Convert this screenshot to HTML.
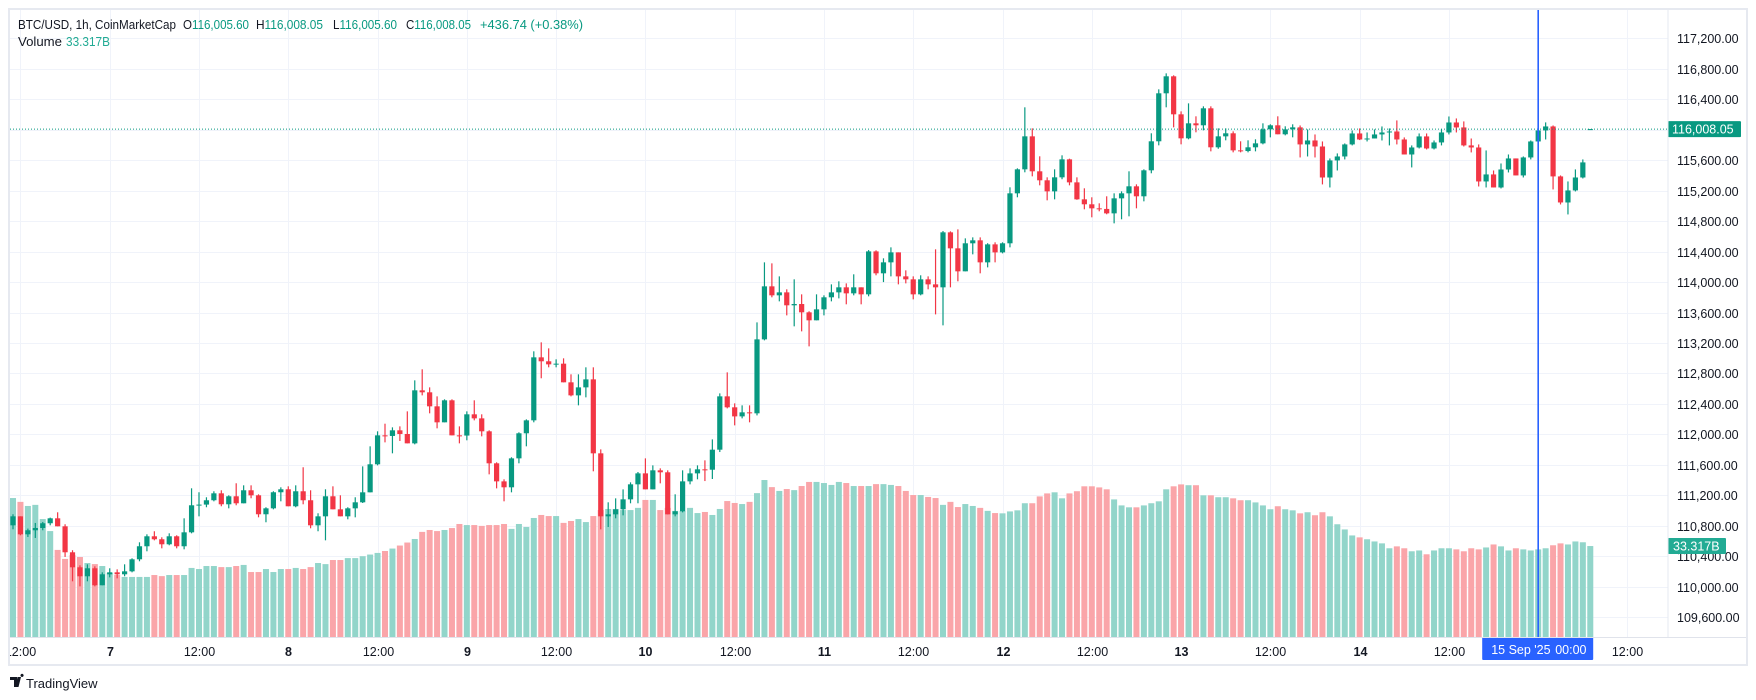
<!DOCTYPE html>
<html><head><meta charset="utf-8"><style>
html,body{margin:0;padding:0;background:#fff;}
svg{display:block;font-family:"Liberation Sans",sans-serif;}
</style></head><body>
<svg id="chart" width="1756" height="700" viewBox="0 0 1756 700" xmlns="http://www.w3.org/2000/svg">
<rect x="0" y="0" width="1756" height="700" fill="#fff"/>
<g id="grid"></g>
<g id="vol"></g>
<g id="candles"></g>
<g id="axes"></g>
<g id="overlay"></g>
<rect x="9" y="9" width="1738" height="656" fill="none" stroke="#e6e9f0" stroke-width="2"/>
<line x1="1668" y1="10" x2="1668" y2="637" stroke="#e6e9f0" stroke-width="1"/>
<line x1="10" y1="637.5" x2="1746" y2="637.5" stroke="#e0e3eb" stroke-width="1"/>
<g font-size="13">
<text x="18" y="29" fill="#131722" textLength="158" lengthAdjust="spacingAndGlyphs">BTC/USD, 1h, CoinMarketCap</text>
<text x="183" y="29" fill="#131722" textLength="66" lengthAdjust="spacingAndGlyphs">O<tspan fill="#089981">116,005.60</tspan></text>
<text x="256" y="29" fill="#131722" textLength="67" lengthAdjust="spacingAndGlyphs">H<tspan fill="#089981">116,008.05</tspan></text>
<text x="333" y="29" fill="#131722" textLength="64" lengthAdjust="spacingAndGlyphs">L<tspan fill="#089981">116,005.60</tspan></text>
<text x="406" y="29" fill="#131722" textLength="65" lengthAdjust="spacingAndGlyphs">C<tspan fill="#089981">116,008.05</tspan></text>
<text x="480" y="29" fill="#089981" textLength="103" lengthAdjust="spacingAndGlyphs">+436.74 (+0.38%)</text>
<text x="18" y="46" fill="#131722" textLength="44" lengthAdjust="spacingAndGlyphs">Volume</text>
<text x="66" y="46" fill="#22ab94" textLength="44" lengthAdjust="spacingAndGlyphs">33.317B</text>
</g>
<g>
<path d="M10 677h7v10h-3v-7h-4z M17.5 677h3.5l-2.5 10h-3z M22 677a1.6 1.6 0 1 1 0.1 0z" fill="#131722"/>
<text x="26" y="688" font-size="13" fill="#131722">TradingView</text>
</g>
</svg>
<script>
const closes = [110925,110689,110742,110772,110834,110899,110794,110453,110256,110138,
110243,110020,110164,110190,110164,110203,110361,110532,110663,110624,
110558,110663,110532,110715,111070,111079,111136,111227,111083,111188,
111096,111267,111201,110952,111030,111241,111280,111057,111254,111136,
110807,110925,111188,111017,110925,111030,111109,
111240,111608,111988,111980,112054,112006,111883,112579,112553,112369,
112159,112448,111988,111985,112264,112211,112041,111621,111384,111306,
111686,112015,112185,113012,112960,112920,112929,112684,112513,112618,
112723,111752,110925,110951,111017,111148,111345,111489,111279,111529,
111503,110951,110991,111384,111489,111542,
111537,111800,112500,112356,112237,112290,112277,113248,113944,113826,
113865,113695,113712,113603,113498,113642,113800,113865,113931,113852,
113931,113839,114403,114115,114259,114390,114075,114036,113839,114036,
113970,113931,114653,114443,114141,114509,114548,114259,114495,114390,
114509,115165,115480,115913,115454,115336,115191,115375,115611,115309,
115086,115021,114968,114960,114902,115099,115165,115257,115126,115467,
115848,116478,116701,116202,115887,116084,116058,116281,115769,115913,
115953,115729,115720,115769,115821,116005,116058,115940,116005,116031,
115807,115859,115780,115373,115597,115649,115807,115951,115872,115885,
115938,115964,115977,115872,115675,115767,115912,115754,115833,115964,
116095,116030,115794,115767,115321,115413,115242,115478,115623,115400,
115636,115846,115991,116043,115387,115045,115203,115373,115571,116008.05];
const highs = [110952,110925,110764,110838,110851,110908,110978,110821,110480,110282,
110295,110269,110190,110243,110229,110295,110374,110584,110689,110729,
110650,110702,110676,110899,111293,111241,111175,111254,111267,111201,
111359,111332,111332,111214,111044,111254,111306,111319,111332,111569,
111267,110965,111280,111319,111201,111044,111175,
111581,111844,112041,112141,112093,112106,112303,112710,112855,112618,
112500,112461,112461,112106,112303,112448,112264,112054,111634,111411,
111700,112028,112198,113091,113209,113130,112986,112999,112789,112789,
112881,112881,111804,111109,111161,111279,111371,111507,111686,111594,
111555,111529,111214,111529,111555,111594,
111660,111935,112539,112815,112408,112382,112382,113471,114259,114246,
114075,113905,114036,113839,113617,113839,113826,113970,114010,113983,
114102,113931,114420,114417,114312,114456,114390,114154,114075,114089,
114075,114430,114670,114666,114692,114574,114587,114587,114510,114522,
114522,115244,115493,116294,116018,115651,115375,115480,115664,115620,
115375,115231,115113,115034,115126,115165,115191,115454,115283,115480,
115953,116530,116740,116714,116241,116346,116176,116307,116307,116018,
116018,115979,115848,115861,115874,116084,116071,116176,116045,116071,
116056,116004,115938,115846,115623,115689,115820,115990,116017,115964,
116004,116043,116017,116122,115899,115794,115951,115951,115859,116004,
116174,116148,116109,115885,115807,115728,115465,115557,115675,115623,
115649,115859,116122,116096,116056,115400,115321,115479,115610,116008.05];
const lows = [110755,110676,110654,110641,110742,110807,110794,110392,110072,110006,
110072,110006,110020,110124,110111,110138,110190,110335,110466,110610,
110505,110545,110505,110492,110702,110925,111044,111122,111057,111030,
111070,111096,111162,110912,110847,111017,111122,111057,111044,111083,
110768,110729,110610,111017,110925,110886,110912,
111100,111240,111594,111896,111752,111914,111883,111870,112513,112277,
112080,112159,111988,111883,111923,112185,111975,111476,111292,111122,
111240,111621,111844,112159,112737,112881,112881,112684,112500,112382,
112487,111516,110754,110785,110899,110938,111096,111096,111279,111279,
111358,110951,110925,110977,111345,111411,
111388,111415,111769,112342,112119,112211,112159,112250,113235,113800,
113747,113563,113419,113353,113156,113498,113563,113747,113786,113708,
113826,113708,113813,114089,114000,114075,113970,113983,113773,113826,
113905,113576,113432,113931,114010,114141,114364,114115,114193,114259,
114377,114456,115113,115441,115388,115270,115073,115086,115350,115270,
115080,114955,114850,114929,114890,114771,114824,114863,114968,115060,
115428,115795,116294,116031,115808,115874,115966,115992,115716,115750,
115861,115703,115703,115703,115716,115808,115900,115940,115926,115900,
115636,115649,115636,115282,115242,115465,115610,115794,115864,115846,
115885,115859,115794,115807,115675,115505,115754,115741,115741,115794,
115938,115964,115780,115702,115255,115242,115242,115229,115439,115400,
115373,115610,115649,115872,115216,115019,114888,115190,115360,116005.6];
const volumes = [50.9,49.5,48.0,48.4,43.2,38.8,31.9,28.6,30.0,29.3,27.1,26.7,26.0,23.4,22.7,22.0,22.0,22.0,22.0,22.7,22.3,22.7,22.7,22.7,25.3,24.9,26.0,26.0,25.6,25.6,26.0,26.4,23.8,23.8,24.9,23.8,24.9,24.9,25.3,24.9,25.6,27.1,26.7,28.2,28.2,28.9,28.9,
29.6,30.2,30.8,31.5,32.4,33.5,34.6,
35.9,38.5,39.2,38.8,39.2,39.9,41.4,41.0,41.0,40.7,41.0,41.0,41.4,39.6,41.4,40.3,43.6,44.7,44.3,44.3,41.8,42.5,43.2,42.1,44.3,46.5,46.9,46.9,46.5,46.5,47.3,50.2,50.2,46.5,47.3,46.2,46.2,47.3,45.4,
45.8,44.7,46.9,49.8,49.1,48.7,49.5,52.7,57.5,54.9,53.5,54.2,53.8,55.3,56.8,56.8,56.4,55.7,56.8,56.4,55.3,55.3,55.3,56.0,56.0,55.7,55.3,53.5,52.0,52.0,51.3,50.9,48.4,49.5,47.6,48.7,48.0,47.3,46.2,45.4,
45.3,46.0,46.4,49.0,49.0,51.5,52.6,53.0,50.8,52.6,53.4,55.2,55.2,54.8,54.1,50.4,48.2,47.5,47.5,48.2,49.0,49.7,54.1,55.2,55.9,55.6,55.6,51.9,51.9,51.2,51.2,50.8,50.1,50.1,49.3,48.2,46.8,47.9,46.8,46.4,45.3,45.7,44.6,45.7,44.2,41.3,39.4,37.2,36.5,35.8,35.0,34.3,32.5,33.2,32.5,31.4,31.7,30.3,31.7,32.5,32.5,32.1,31.4,32.5,32.1,32.8,33.9,33.2,31.7,32.5,32.1,31.7,32.1,32.5,33.6,34.3,33.9,35.0,34.7,33.317];
const firstOpen = 110807;
const lastOpen = 116005.6;
const lastPrice = 116008.05;
const lastVolumeLabel = "33.317B";
const priceTicks = [117200,116800,116400,116000,115600,115200,114800,114400,114000,113600,113200,112800,112400,112000,111600,111200,110800,110400,110000,109600];
const timeTickIdx = [1,13,25,37,49,61,73,85,97,109,121,133,145,157,169,181,193,217];
const timeTickLabels = ["12:00","7","12:00","8","12:00","9","12:00","10","12:00","11","12:00","12","12:00","13","12:00","14","12:00","12:00"];
const crosshairIdx = 205;
const crosshairLabel = ["15 Sep '25","00:00"];

const NS="http://www.w3.org/2000/svg";
const UP="#089981", DOWN="#f23645", VUP="#92d5ca", VDOWN="#faa5a9";
const PL=10, PR=1668, PT=10, PB=637;
function yP(p){return 38.3+(117200-p)*0.07618;}
function xI(i){return 13+7.44*i;}
function yV(v){return PB-v*2.73;}
function mk(tag,attrs,parent){const e=document.createElementNS(NS,tag);for(const k in attrs)e.setAttribute(k,attrs[k]);parent.appendChild(e);return e;}
function fmt(p){return p.toLocaleString("en-US",{minimumFractionDigits:2,maximumFractionDigits:2});}

const grid=document.getElementById("grid"), vol=document.getElementById("vol"), cg=document.getElementById("candles"), axes=document.getElementById("axes"), ov=document.getElementById("overlay");

priceTicks.forEach(p=>{
  const y=Math.round(yP(p))+0.5;
  const l=mk("line",{x1:PL,x2:PR,y1:y,y2:y,stroke:"#f0f3fa","stroke-width":1},grid);
  
  
  const t=mk("text",{x:1677,y:y+4.5,"font-size":"12.5",fill:"#131722"},axes);
  t.textContent=fmt(p);
  
  
});
timeTickIdx.forEach((idx,k)=>{
  const x=Math.round(xI(idx))+0.5;
  const l=mk("line",{x1:x,x2:x,y1:PT,y2:PB,stroke:"#f0f3fa","stroke-width":1},grid);
  
  
  const lab=timeTickLabels[k];
  const isDay=lab.indexOf(":")<0;
  const t=mk("text",{x:x,y:656,"font-size":"12.5","text-anchor":"middle",fill:"#131722","font-weight":isDay?"bold":"normal"},axes);
  t.textContent=lab;
  
  
});
mk("rect",{x:0,y:638,width:10,height:26,fill:"#fff"},axes);

const n=closes.length;
for(let i=0;i<n;i++){
  const o = i===0?firstOpen:(i===n-1?lastOpen:closes[i-1]);
  const c = closes[i];
  const up = c>=o;
  const x = xI(i);
  const v=mk("rect",{x:(x-3).toFixed(2),y:yV(volumes[i]).toFixed(2),width:6,height:(volumes[i]*2.73).toFixed(2),fill:up?VUP:VDOWN},vol);
  
  
  const h=Math.max(highs[i],o,c), lo=Math.min(lows[i],o,c);
  const w=mk("line",{x1:x.toFixed(2),x2:x.toFixed(2),y1:yP(h).toFixed(2),y2:yP(lo).toFixed(2),stroke:up?UP:DOWN,"stroke-width":1.2},cg);
  
  
  const top=yP(Math.max(o,c)), bh=Math.max(1,yP(Math.min(o,c))-top);
  const b=mk("rect",{x:(x-2.6).toFixed(2),y:top.toFixed(2),width:5.2,height:bh.toFixed(2),fill:up?UP:DOWN},cg);
  
  
}

const ly=yP(lastPrice);
const pl=mk("line",{x1:PL,x2:PR,y1:ly,y2:ly,stroke:UP,"stroke-width":1,"stroke-dasharray":"1 2"},ov);


const pb=mk("rect",{x:1668,y:ly-8,width:73,height:16,fill:UP,rx:1},ov);


const pt=mk("text",{x:1672,y:ly+4.5,"font-size":"12.5",fill:"#fff"},ov);
pt.textContent=fmt(lastPrice);



const vy=yV(volumes[n-1]);
const vb=mk("rect",{x:1668,y:vy-8,width:58,height:16,fill:"#22ab94",rx:1},ov);


const vt=mk("text",{x:1673,y:vy+4.5,"font-size":"12.5",fill:"#fff"},ov);
vt.textContent=lastVolumeLabel;



const cx=xI(crosshairIdx);
const ch=mk("line",{x1:cx,x2:cx,y1:PT,y2:PB,stroke:"#2962ff","stroke-width":1.6},ov);


const cb=mk("rect",{x:cx-56,y:637,width:111,height:23,fill:"#2962ff",rx:1},ov);


const ct=mk("text",{x:cx-47,y:654,"font-size":"12.5",fill:"#fff"},ov);
ct.textContent=crosshairLabel[0];


const ct2=mk("text",{x:cx+17,y:654,"font-size":"12.5",fill:"#fff"},ov);
ct2.textContent=crosshairLabel[1];


</script>
</body></html>
